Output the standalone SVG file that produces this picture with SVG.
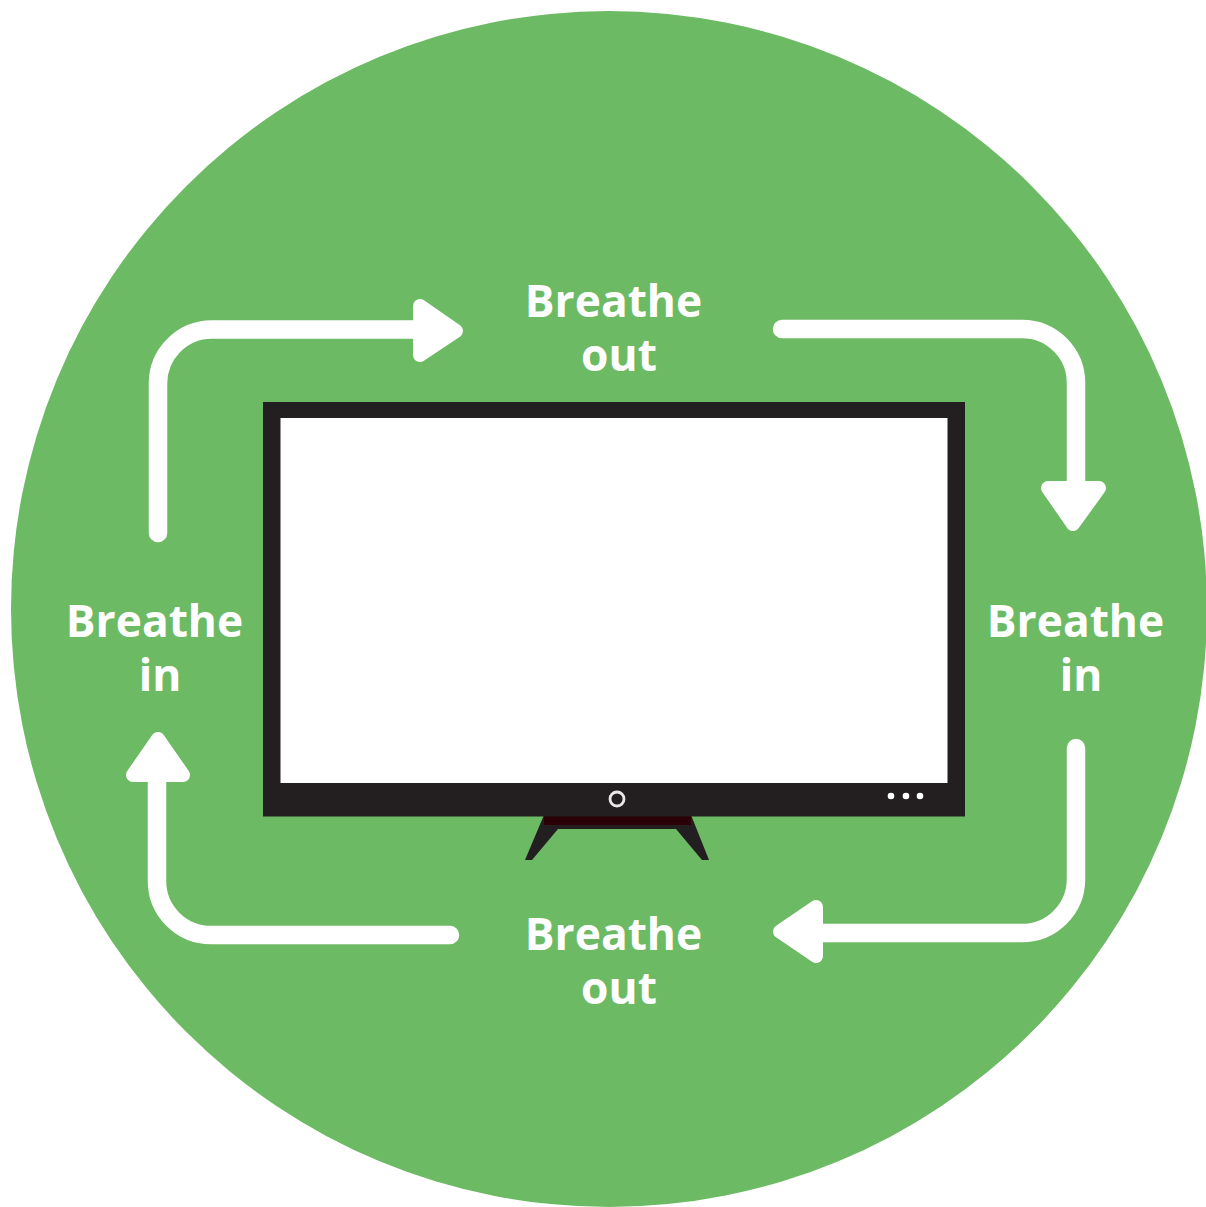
<svg xmlns="http://www.w3.org/2000/svg" width="1206" height="1207" viewBox="0 0 1206 1207">
<style>
.lbl{font-family:"Open Sans","Noto Sans",sans-serif;font-weight:700;font-size:44.3px;fill:#fff;text-anchor:middle}
.arrow{fill:none;stroke:#fff;stroke-width:18.5;stroke-linecap:round}
.head{fill:#fff;stroke:#fff;stroke-width:14;stroke-linejoin:round}
</style>
<rect width="1206" height="1207" fill="#fff"/>
<circle id="bg" cx="609" cy="609" r="598" fill="#6dba64"/>
<g id="connectors">
<path class="arrow" d="M158 533V384A54 54 0 0 1 212 329.500H425"/>
<path class="head" d="M420 306L456 331L420 355Z"/>
<path class="arrow" d="M782 329H1022A54 54 0 0 1 1076 383V495"/>
<path class="head" d="M1048 488H1099L1073 524Z"/>
<path class="arrow" d="M1076 748V879A54 54 0 0 1 1022 933H810"/>
<path class="head" d="M816 907L780 931.500L816 956Z"/>
<path class="arrow" d="M450 935H211A54 54 0 0 1 157 881V770"/>
<path class="head" d="M133 775H183L158 739Z"/>
</g>
<g id="tv">
<path d="M544 815H691L709 860H702L676 829H558L532 860H525Z" fill="#231f20"/>
<rect x="544" y="815" width="147" height="10" fill="#2a0006"/>
<rect x="263" y="402" width="702" height="414.500" fill="#231f20"/>
<rect x="280.500" y="418" width="667" height="365" fill="#fff"/>
<circle cx="617" cy="799" r="7" fill="none" stroke="#e8e8e8" stroke-width="2.800"/>
<circle cx="891" cy="796" r="3.300" fill="#fff"/><circle cx="906" cy="796" r="3.300" fill="#fff"/><circle cx="920" cy="796" r="3.300" fill="#fff"/>
</g>
<g id="n-top"><text class="lbl" y="317"><tspan x="613.500">Breathe</tspan><tspan x="619" y="371">out</tspan></text></g>
<g id="n-right"><text class="lbl" y="637"><tspan x="1075.500">Breathe</tspan><tspan x="1081" y="691">in</tspan></text></g>
<g id="n-bottom"><text class="lbl" y="950"><tspan x="613.500">Breathe</tspan><tspan x="619" y="1004">out</tspan></text></g>
<g id="n-left"><text class="lbl" y="637"><tspan x="154.500">Breathe</tspan><tspan x="160" y="691">in</tspan></text></g>
</svg>
